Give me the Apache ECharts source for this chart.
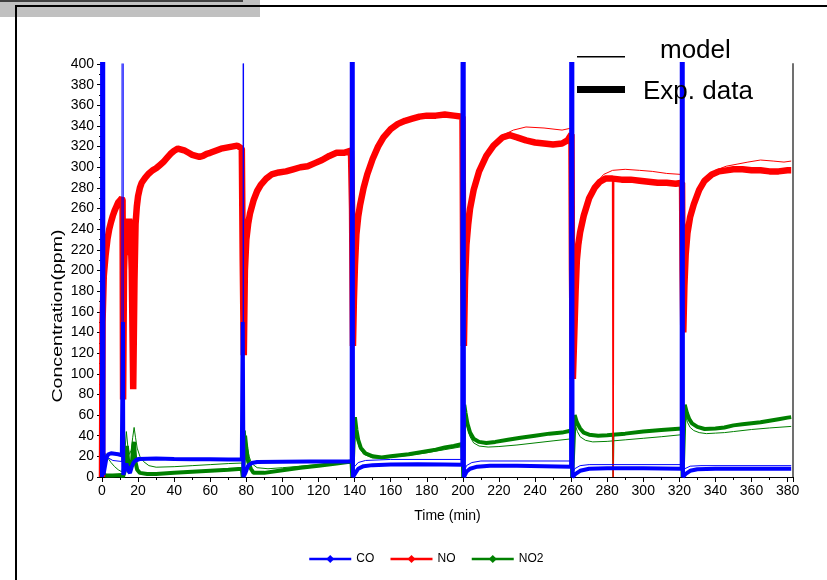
<!DOCTYPE html>
<html>
<head>
<meta charset="utf-8">
<script src="https://cdn.jsdelivr.net/npm/echarts@6/dist/echarts.min.js"></script>
<style>
html,body{margin:0;padding:0;background:#fff;}
#chart{width:827px;height:580px;}
</style>
</head>
<body>
<div id="chart"></div>
<script>
// ---- Data (time in min, concentration in ppm) ----
const legendNames = ['CO', 'NO', 'NO2'];
const xTicks = [0,20,40,60,80,100,120,140,160,180,200,220,240,260,280,300,320,340,360,380];

// CO experimental
const coExp = [[0,0],[0.2,2000],[0.5,2000],[0.8,2],[1.8,12],[2.5,19],[3.5,22],[5,23],[7,22.5],[9,22],[11,21],[11.4,20],[11.6,150],[11.8,2],[12.5,8],[13.5,13],[14.5,6],[15.5,4],[16.5,10],[17.5,14],[18.5,16],[20,17.5],[30,17.8],[40,17.5],[50,17.3],[60,17.2],[70,17],[77.5,17],[78,150],[78.4,0],[79.5,4],[81,11],[83,13.5],[86,14.5],[100,14.8],[115,15],[130,15],[138.4,15],[138.6,2000],[138.9,2000],[139.1,0],[140.5,4],[142,8],[145,10.5],[150,11.5],[160,12],[175,12.3],[190,12],[199.8,11.8],[200.1,2000],[200.4,2000],[200.6,0],[202,5],[204,8],[208,10],[215,11],[230,11],[245,10.5],[260,10],[260.3,2000],[260.6,2000],[260.8,0],[262.5,3],[265,6],[270,8],[280,8.5],[300,8.5],[321.3,8],[321.5,2000],[321.8,2000],[322,0],[323.5,3],[326,6],[330,7.5],[340,8],[360,8],[382,8]];
// CO model
const coMod = [[0,0],[0.3,2000],[0.6,2000],[1.5,20],[3,19],[6,16],[11,15],[11.5,15],[11.6,2000],[11.8,3],[13,6],[15,10],[18,14],[22,16.5],[30,17.5],[77,17.5],[78.2,17.5],[78.3,2000],[78.5,3],[80,8],[83,13],[90,15],[137,15.5],[138.6,15.5],[138.7,2000],[138.9,3],[140,10],[142,14],[146,16],[160,17],[199,17],[200.1,17],[200.2,2000],[200.4,3],[202,11],[205,14],[210,15.5],[260,15.5],[260.4,15.5],[260.5,2000],[260.7,3],[262,8],[265,11],[270,12],[321.6,12],[321.7,2000],[321.9,3],[323,8],[326,10.5],[332,11],[382,11]];

// NO experimental
const noExp = [[0,0],[0.3,150],[1,195],[2,215],[3,230],[4,240],[5,247],[6,253],[7,258],[8,262],[9,266],[10,268],[11,270],[11.4,268],[11.7,75],[12.2,200],[12.8,235],[13.5,215],[14.2,235],[15,250],[15.8,240],[16.5,200],[17.3,85],[18,190],[18.6,245],[19.3,262],[20,272],[21,280],[22,285],[24,290],[26,294],[28,297],[30,299],[32,302],[34,305],[36,309],[38,313],[40,316],[42,318],[44,317],[46,316],[48,314],[50,312],[52,311],[54,310],[56,311],[58,313],[60,314],[63,316],[66,318],[69,319],[72,320],[75,321],[77.5,318],[78,210],[78.6,118],[79.2,200],[80,230],[81,245],[82,255],[84,268],[86,277],[88,283],[91,289],[94,293],[98,295],[102,296],[106,298],[110,300],[114,301],[118,304],[122,307],[126,311],[130,314],[134,314],[138,316],[138.6,260],[139.1,127],[139.6,170],[140.2,205],[141,235],[142,252],[143,263],[145,280],[147,293],[150,308],[153,320],[156,329],[160,337],[164,342],[168,345],[172,347],[176,349],[180,350],[185,350],[190,351],[195,350],[199.8,349],[200.2,200],[200.6,127],[201.2,190],[202,225],[203,245],[204,260],[206,278],[209,296],[213,311],[217,321],[222,329],[226,331],[230,329],[235,326],[240,324],[245,323],[250,322],[255,323],[258,326],[260.2,332],[260.5,200],[261,95],[261.8,140],[262.5,180],[263.2,210],[264,225],[265,237],[267,253],[270,270],[273,280],[276,286],[279,289],[283,289],[288,288],[293,288],[298,287],[303,286],[308,285],[313,285],[318,284],[321.5,285],[321.8,200],[322.2,140],[322.8,185],[323.5,215],[324.5,236],[326,252],[328,264],[331,278],[334,287],[338,293],[342,296],[346,297],[350,298],[355,298],[360,297],[365,297],[370,296],[375,296],[380,297],[382,297]];
// NO experimental outlier reading
const noOutlier = [[283,289],[283.3,0],[283.6,289]];
// NO model
const noMod = [[0,0],[0.2,150],[1,200],[3,232],[5,248],[8,262],[11,270],[11.5,270],[11.7,180],[12.5,230],[14,240],[15.5,248],[16.5,220],[17.5,150],[18.3,230],[19.5,265],[21,280],[24,290],[28,297],[32,302],[36,309],[40,315],[44,317],[50,313],[56,311],[62,315],[70,319],[77.5,319],[78.2,319],[78.6,180],[79.5,215],[81,245],[84,268],[88,284],[94,293],[102,297],[110,300],[118,304],[126,311],[132,314],[138.5,316],[138.7,316],[139.2,180],[140,210],[142,252],[145,280],[150,308],[156,329],[162,340],[170,346],[180,350],[190,351],[200,350],[200.2,350],[200.6,190],[202,228],[204,262],[209,297],[213,312],[217,322],[222,331],[228,336],[235,339],[245,338],[255,336],[260.3,338],[260.5,338],[261.2,150],[263,212],[265,240],[267,255],[270,272],[274,285],[278,293],[283,297],[290,298],[298,297],[305,296],[313,294],[321.5,293],[321.8,293],[322.5,190],[324,232],[326,253],[328,266],[331,280],[335,291],[340,297],[346,301],[352,303],[358,305],[365,307],[372,306],[378,305],[382,306]];

// NO2 experimental
const no2Exp = [[0,0],[0.3,20],[0.8,3],[2,1.5],[6,1.5],[11,2],[11.6,0],[12.5,5],[13.2,18],[13.8,30],[14.5,15],[15.5,6],[16.5,12],[17.2,28],[17.7,34],[18.5,15],[19.5,7],[21,4],[25,3],[30,3],[40,4],[50,5],[60,6],[70,7],[77.5,8],[78,0],[78.8,22],[79.3,40],[80,28],[81,15],[82.5,8],[84,4],[90,4],[100,6.5],[110,9],[120,11],[130,13],[138.3,15],[138.7,0],[139.5,35],[140.2,58],[141,46],[142,36],[143.5,28],[146,23],[150,20],[155,19],[160,20],[165,21],[170,22],[175,23.5],[180,25],[185,26.5],[190,28.5],[195,30],[199.8,32],[200.2,0],[200.8,70],[201.5,62],[202.5,52],[204,43],[206,37],[209,34],[213,33],[218,34],[225,36],[232,38],[240,40],[248,42],[255,43],[260.2,45],[260.6,0],[262,60],[263.2,53],[265,47],[267,43],[270,41],[275,40],[280,40.5],[283,41],[290,42],[300,44],[310,45.5],[321.5,47],[321.8,0],[323,70],[324.2,62],[325.5,56],[327,52],[330,48.5],[334,46.5],[340,47],[345,48],[350,50],[355,51],[360,52],[365,53],[370,54.5],[375,56],[380,57.5],[382,58]];
// NO2 experimental outlier reading
const no2Outlier = [[283,41],[283.3,0],[283.6,41]];
// NO2 model
const no2Mod = [[0,0],[0.5,24],[1.7,23],[3,19],[5,14],[7,10],[9,7],[11,5],[11.6,5],[12.5,20],[13.5,44],[14.3,30],[15.2,22],[16.2,26],[17,38],[17.8,48],[18.6,38],[19.5,28],[21,20],[23,15],[26,11],[30,9.5],[40,10],[50,11],[60,12],[70,13],[77.5,13.5],[78.2,13.5],[78.6,5],[79.3,45],[80.2,32],[81.5,20],[83,13],[86,9],[92,8],[100,9],[110,10.5],[120,12],[130,13.5],[138.5,15],[138.7,15],[139.2,5],[140.2,50],[141.2,38],[142.5,29],[145,22],[150,18.5],[155,18],[160,19],[170,21],[180,23.5],[190,26.5],[200,29.5],[200.2,29.5],[200.6,5],[201,60],[202.5,48],[204,39],[206,33],[209,30],[214,29],[220,29.5],[230,31],[240,33],[250,35],[260.3,37],[260.5,37],[261,5],[262,52],[263.5,44],[265,39],[268,35.5],[272,34],[280,34.5],[290,36],[300,37.5],[310,39],[321.5,41],[321.8,41],[322.2,5],[323,62],[324.5,53],[326,48],[328,45],[331,43],[335,42],[340,42.5],[345,43],[350,44],[360,46],[370,47.5],[382,49]];

// ---- Chart ----
const FONT = '"Liberation Sans", Arial, sans-serif';
const colors = {CO: '#0000ff', NO: '#ff0000', NO2: '#008000'};

function mk(name, data, width, z) {
  return {
    name: name, type: 'line', data: data, z: z,
    symbol: 'diamond', symbolSize: 8, showSymbol: false,
    lineStyle: {color: colors[name], width: width},
    itemStyle: {color: colors[name]},
    animation: false, clip: true, silent: true
  };
}

const chart = echarts.init(document.getElementById('chart'), null, {renderer: 'canvas'});
chart.setOption({
  animation: false,
  backgroundColor: '#ffffff',
  grid: {left: 102, right: 34, top: 64, bottom: 103, containLabel: false},
  legend: {
    data: legendNames,
    top: 553, left: 308, padding: 0,
    itemWidth: 42, itemHeight: 10, itemGap: 15,
    textStyle: {fontFamily: FONT, fontSize: 12, color: '#000'},
    lineStyle: {width: 2.5},
    selectedMode: false
  },
  xAxis: {
    type: 'value', min: 0, max: 383, interval: 20,
    name: 'Time (min)', nameLocation: 'middle', nameGap: 32,
    nameTextStyle: {fontFamily: FONT, fontSize: 14, color: '#000'},
    axisLine: {show: true, onZero: false, lineStyle: {color: '#000', width: 1}},
    axisTick: {show: true, length: 5, lineStyle: {color: '#000'}},
    minorTick: {show: true, splitNumber: 2, length: 3, lineStyle: {color: '#000'}},
    splitLine: {show: false},
    axisLabel: {fontFamily: FONT, fontSize: 14, color: '#000', margin: 7,
      formatter: v => (xTicks.indexOf(v) >= 0 ? String(v) : '')}
  },
  yAxis: [{
    type: 'value', min: 0, max: 400, interval: 20,
    axisLine: {show: true, lineStyle: {color: '#000', width: 1}},
    axisTick: {show: true, length: 5, lineStyle: {color: '#000'}},
    minorTick: {show: true, splitNumber: 2, length: 3, lineStyle: {color: '#000'}},
    splitLine: {show: false},
    axisLabel: {fontFamily: FONT, fontSize: 14, color: '#000', margin: 8}
  }, {
    type: 'value', min: 0, max: 400, position: 'right',
    axisLine: {show: true, lineStyle: {color: '#707070', width: 2}},
    axisTick: {show: false}, axisLabel: {show: false}, splitLine: {show: false}
  }],
  series: [
    mk('CO', coExp, 4, 6),
    mk('NO', noExp, 6.5, 4),
    mk('NO2', no2Exp, 4, 2),
    mk('NO2', no2Mod, 1, 3),
    mk('NO2', no2Outlier, 1.5, 3),
    mk('NO', noMod, 1, 5),
    mk('NO', noOutlier, 1.5, 5),
    mk('CO', coMod, 1, 7)
  ],
  graphic: [
    {type: 'rect', shape: {x: 0, y: 0, width: 260, height: 17}, style: {fill: '#c0c0c0'}, z: 1},
    {type: 'rect', shape: {x: 0, y: 0, width: 243, height: 2}, style: {fill: '#404040'}, z: 2},
    {type: 'rect', shape: {x: 15, y: 5, width: 812, height: 2}, style: {fill: '#000'}, z: 2},
    {type: 'rect', shape: {x: 15, y: 5, width: 2, height: 575}, style: {fill: '#000'}, z: 2},
    {type: 'rect', shape: {x: 577, y: 56, width: 48, height: 1.5}, style: {fill: '#000'}, z: 20},
    {type: 'rect', shape: {x: 577, y: 86, width: 48, height: 7}, style: {fill: '#000'}, z: 20},
    {type: 'text', x: 660, y: 51, z: 20, style: {text: 'model', fontFamily: FONT, fontSize: 26, fill: '#000', textVerticalAlign: 'middle'}},
    {type: 'text', x: 643, y: 92, z: 20, style: {text: 'Exp. data', fontFamily: FONT, fontSize: 26, fill: '#000', textVerticalAlign: 'middle'}},
    {type: 'text', x: 58, y: 316, rotation: Math.PI / 2, scaleX: 1.4, z: 20,
      style: {text: 'Concentration(ppm)', fontFamily: FONT, fontSize: 14, fill: '#000', textAlign: 'center', textVerticalAlign: 'middle'}}
  ]
});
</script>
</body>
</html>
